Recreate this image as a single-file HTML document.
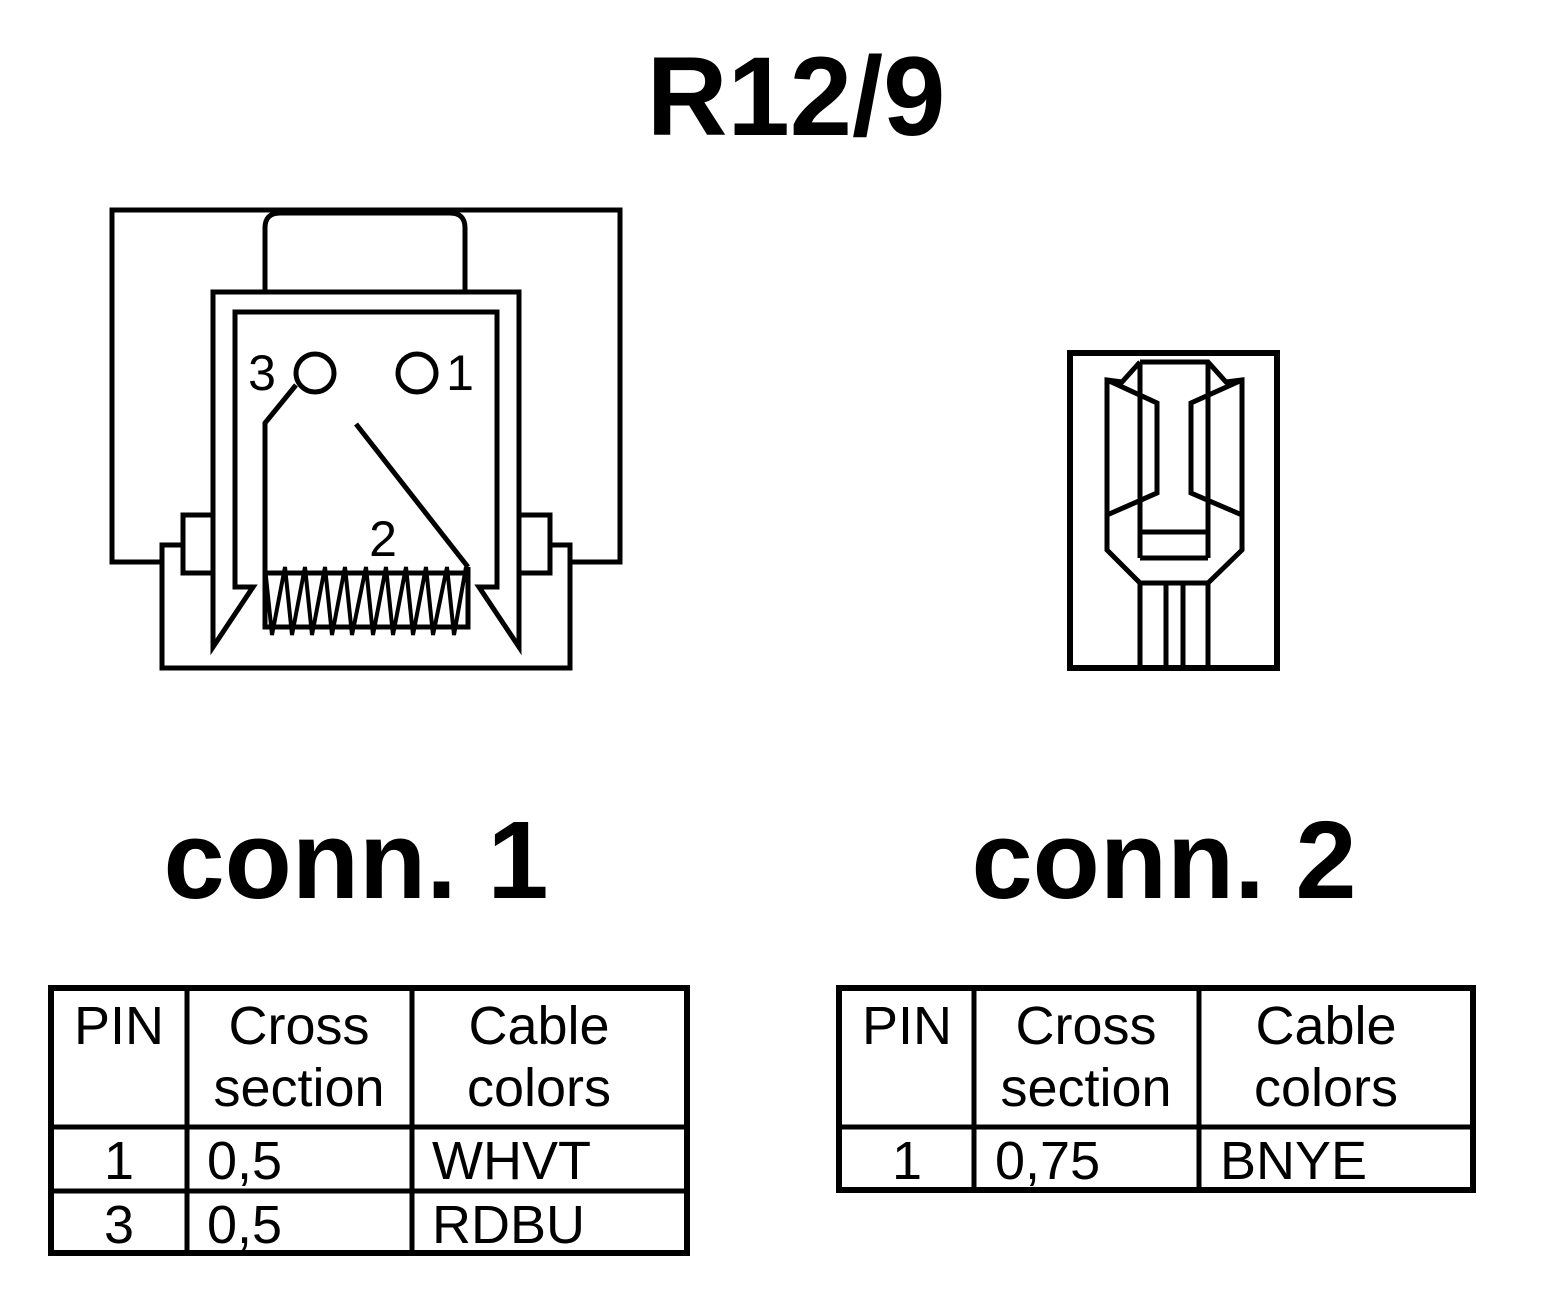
<!DOCTYPE html>
<html><head><meta charset="utf-8"><style>
html,body{margin:0;padding:0;background:#fff;}
svg{display:block;}
text{font-family:"Liberation Sans",Arial,sans-serif;fill:#000;}
</style></head><body>
<svg width="1568" height="1308" viewBox="0 0 1568 1308" xmlns="http://www.w3.org/2000/svg">
<rect width="1568" height="1308" fill="#fff"/>
<text x="796" y="135" font-size="112" font-weight="bold" text-anchor="middle">R12/9</text>

<g fill="none" stroke="#000" stroke-width="5" stroke-linejoin="miter">
  <polyline points="162,562 112,562 112,210 620,210 620,562 570,562"/>
  <path d="M265,292 V228 Q265,213 280,213 H450 Q465,213 465,228 V292"/>
  <polygon points="213,292 519,292 519,647 479,587 497,587 497,312 235,312 235,587 253,587 213,647"/>
  <polyline points="183,545 162,545 162,668 570,668 570,545 550,545"/>
  <rect x="183" y="515" width="30" height="58"/>
  <rect x="519" y="515" width="31" height="58"/>
  <polyline points="265,567 265,627 468,627 468,567"/>
  <line x1="265" y1="573" x2="468" y2="573"/>
  <polyline stroke-width="4" points="265,567 272,635 285,567 292,635 305,567 312,635 325,567 332,635 345,567 352,635 366,567 373,635 386,567 393,635 406,567 413,635 426,567 433,635 447,567 454,635 466,567"/>
  <circle cx="315" cy="373" r="19"/>
  <circle cx="417" cy="373" r="19"/>
  <polyline points="296,385 265,423 265,573"/>
  <line x1="356" y1="424" x2="468" y2="567"/>

  <rect x="1070" y="353" width="207" height="315" stroke-width="6"/>
  <polyline points="1140,362 1208,362 1226,382 1242,380 1242,550 1208,583 1140,583 1107,550 1107,380 1122,382 1140,362"/>
  <line x1="1140" y1="362" x2="1140" y2="558"/>
  <line x1="1208" y1="362" x2="1208" y2="558"/>
  <line x1="1140" y1="532" x2="1208" y2="532"/>
  <line x1="1140" y1="558" x2="1208" y2="558"/>
  <polyline points="1107,380 1157,403 1157,493 1107,515"/>
  <polyline points="1242,380 1191,403 1191,493 1242,515"/>
  <line x1="1140" y1="583" x2="1140" y2="668"/>
  <line x1="1166" y1="583" x2="1166" y2="668"/>
  <line x1="1183" y1="583" x2="1183" y2="668"/>
  <line x1="1208" y1="583" x2="1208" y2="668"/>
</g>
<text x="262" y="390" font-size="50" text-anchor="middle">3</text>
<text x="460" y="390" font-size="50" text-anchor="middle">1</text>
<text x="383" y="556" font-size="50" text-anchor="middle">2</text>

<text x="356" y="898" font-size="110" font-weight="bold" text-anchor="middle">conn. 1</text>
<text x="1164" y="898" font-size="110" font-weight="bold" text-anchor="middle">conn. 2</text>

<g fill="none" stroke="#000">
  <rect x="51" y="988" width="636" height="265" stroke-width="6"/>
  <line x1="187" y1="988" x2="187" y2="1253" stroke-width="5"/>
  <line x1="412" y1="988" x2="412" y2="1253" stroke-width="5"/>
  <line x1="51" y1="1127" x2="687" y2="1127" stroke-width="5"/>
  <line x1="51" y1="1191" x2="687" y2="1191" stroke-width="5"/>
  <rect x="839" y="988" width="634" height="202" stroke-width="6"/>
  <line x1="974" y1="988" x2="974" y2="1190" stroke-width="5"/>
  <line x1="1199" y1="988" x2="1199" y2="1190" stroke-width="5"/>
  <line x1="839" y1="1127" x2="1473" y2="1127" stroke-width="5"/>
</g>
<g font-size="54">
  <text x="119" y="1044" text-anchor="middle">PIN</text>
  <text x="299" y="1044" text-anchor="middle">Cross</text>
  <text x="299" y="1106" text-anchor="middle">section</text>
  <text x="539" y="1044" text-anchor="middle">Cable</text>
  <text x="539" y="1106" text-anchor="middle">colors</text>
  <text x="119" y="1179" text-anchor="middle">1</text>
  <text x="207" y="1179">0,5</text>
  <text x="432" y="1179">WHVT</text>
  <text x="119" y="1243" text-anchor="middle">3</text>
  <text x="207" y="1243">0,5</text>
  <text x="432" y="1243">RDBU</text>

  <text x="907" y="1044" text-anchor="middle">PIN</text>
  <text x="1086" y="1044" text-anchor="middle">Cross</text>
  <text x="1086" y="1106" text-anchor="middle">section</text>
  <text x="1326" y="1044" text-anchor="middle">Cable</text>
  <text x="1326" y="1106" text-anchor="middle">colors</text>
  <text x="907" y="1179" text-anchor="middle">1</text>
  <text x="995" y="1179">0,75</text>
  <text x="1220" y="1179">BNYE</text>
</g>
</svg>
</body></html>
